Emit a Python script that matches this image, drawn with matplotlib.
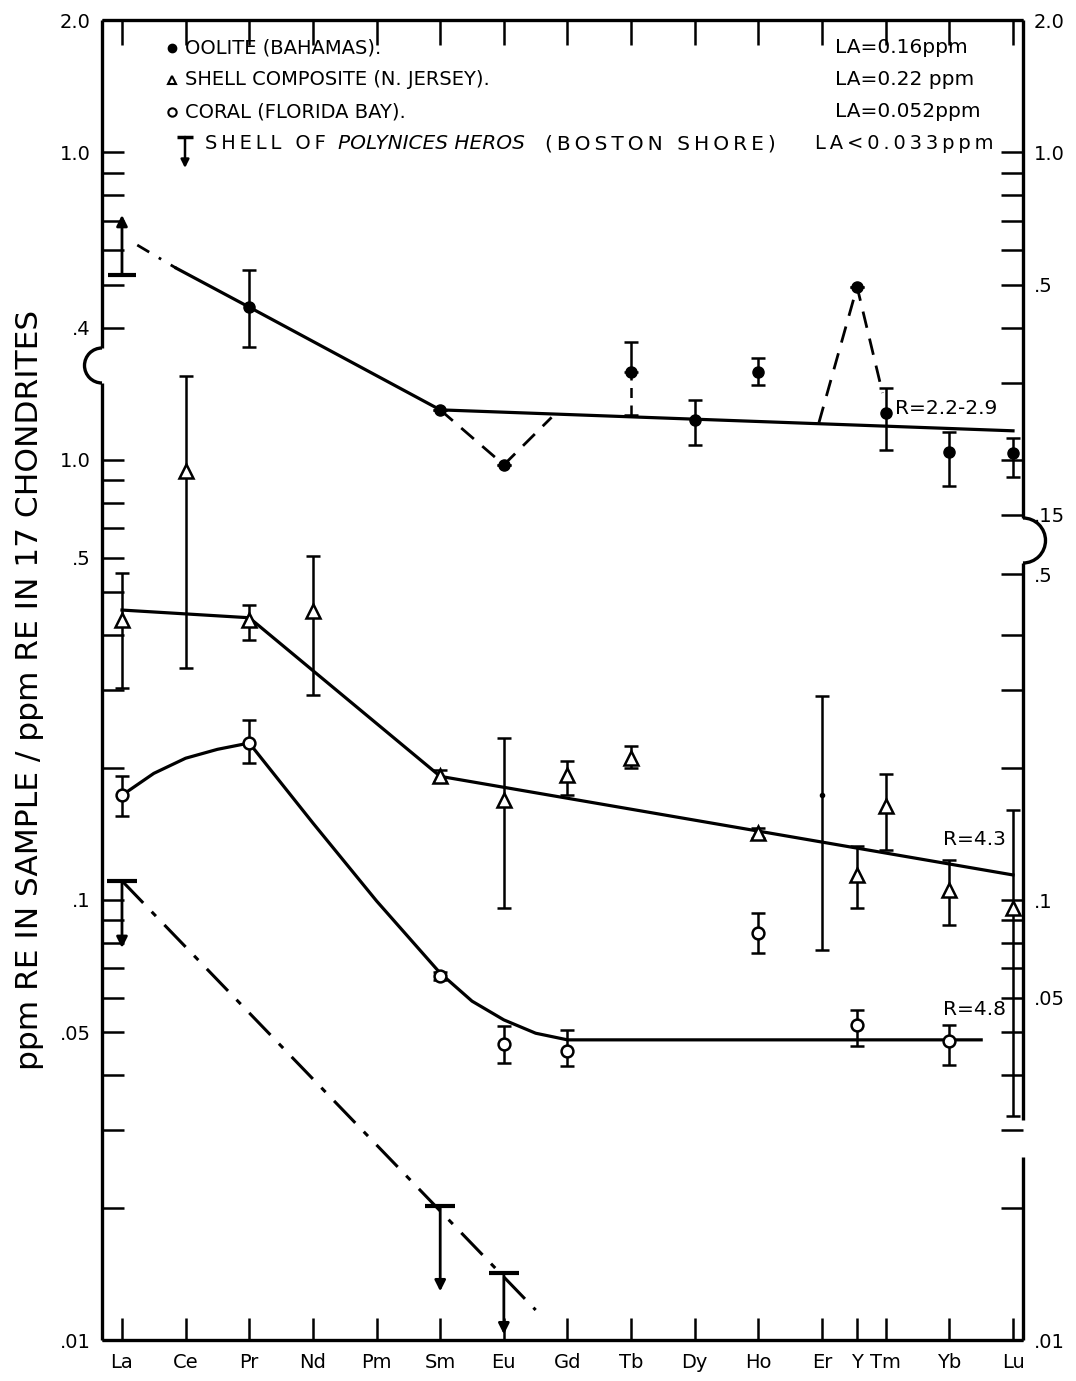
import matplotlib
matplotlib.use('Agg')
import matplotlib.pyplot as plt
from matplotlib.patches import Arc
from matplotlib.ticker import FixedLocator, FixedFormatter, NullLocator

plt.rcParams['font.family'] = 'DejaVu Sans'

# element axis: Y is slotted in between Er and Tm
elements = ['La', 'Ce', 'Pr', 'Nd', 'Pm', 'Sm', 'Eu', 'Gd', 'Tb', 'Dy', 'Ho', 'Er', 'Y', 'Tm', 'Yb', 'Lu']
elem_x = [0, 1, 2, 3, 4, 5, 6, 7, 8, 9, 10, 11, 11.55, 12, 13, 14]
top_tick_x = [0, 1, 2, 3, 4, 5, 6, 7, 8, 9, 10, 11, 12, 13, 14]

# oolite (Bahamas) -> upper scale (2.0 ... 0.15)
oolite_x = [2, 5, 6, 8, 9, 10, 11.55, 12, 13, 14]
oolite_y = [0.445, 0.260, 0.195, 0.317, 0.247, 0.317, 0.495, 0.256, 0.209, 0.208]
oolite_lo = [0.361, 0.260, 0.195, 0.317, 0.216, 0.296, 0.495, 0.211, 0.175, 0.183]
oolite_hi = [0.541, 0.260, 0.195, 0.371, 0.274, 0.341, 0.495, 0.291, 0.232, 0.224]
oolite_tb_lo = 0.253          # dashed lower bar at Tb
oolite_la, oolite_la_tip = 0.527, 0.721   # La lower limit
oolite_trend_x = [0.85, 2, 5, 14]
oolite_trend_y = [0.546, 0.445, 0.260, 0.233]
oolite_start_x = [0.24, 0.85]
oolite_start_y = [0.616, 0.546]
oolite_eu_x = [5, 6, 6.75]
oolite_eu_y = [0.260, 0.195, 0.250]
oolite_y_x = [10.95, 11.55, 11.95]
oolite_y_y = [0.243, 0.495, 0.284]

# shell composite (N. Jersey) -> lower scale
shell_x = [0, 1, 2, 3, 5, 6, 7, 8, 10, 11.55, 12, 13, 14]
shell_y = [0.433, 0.944, 0.433, 0.454, 0.191, 0.169, 0.192, 0.210, 0.142, 0.114, 0.1635, 0.1054, 0.0959]
shell_lo = [0.303, 0.336, 0.390, 0.292, 0.185, 0.0959, 0.173, 0.1995, 0.138, 0.0959, 0.130, 0.0877, 0.0323]
shell_hi = [0.553, 1.552, 0.468, 0.605, 0.197, 0.233, 0.207, 0.224, 0.146, 0.133, 0.193, 0.123, 0.160]
shell_er, shell_er_lo, shell_er_hi = 0.173, 0.0769, 0.291
shell_line_x = [0, 2, 5, 14]
shell_line_y = [0.456, 0.438, 0.191, 0.114]

# coral (Florida Bay) -> lower scale
coral_x = [0, 2, 5, 6, 7, 10, 11.55, 13]
coral_y = [0.173, 0.2274, 0.0672, 0.0471, 0.0454, 0.0841, 0.0520, 0.0478]
coral_lo = [0.155, 0.2046, 0.0659, 0.0426, 0.0420, 0.0758, 0.0466, 0.0422]
coral_hi = [0.191, 0.2565, 0.0686, 0.0517, 0.0506, 0.0934, 0.0562, 0.0520]
coral_line_x = [0, 0.5, 1, 1.5, 2, 3, 4, 5, 5.5, 6, 6.5, 7, 13.5]
coral_line_y = [0.173, 0.194, 0.210, 0.220, 0.2274, 0.1496, 0.0995, 0.0682, 0.0589, 0.0534, 0.0498, 0.0481, 0.0481]

# shell of Polynices heros (Boston) -> upper limits, lower scale
boston_x = [0, 5, 6]
boston_y = [0.1105, 0.0202, 0.0142]
boston_tip = [0.0778, 0.0129, 0.0103]
boston_line_x = [0, 6.5]
boston_line_y = [0.1105, 0.0117]

# axis ticks
low_left_ticks = [1.0, 0.9, 0.8, 0.7, 0.6, 0.5, 0.4, 0.3, 0.2, 0.1, 0.09, 0.08, 0.07, 0.06, 0.05, 0.04, 0.03, 0.02, 0.01]
low_left_labels = ['1.0', '', '', '', '.5', '', '', '', '', '.1', '', '', '', '', '.05', '', '', '', '.01']
low_right_ticks = [0.55, 0.4, 0.3, 0.2, 0.1, 0.09, 0.08, 0.07, 0.06, 0.05, 0.04, 0.03, 0.02, 0.01]
low_right_labels = ['.5', '', '', '', '.1', '', '', '', '.05', '', '', '', '', '.01']
top_left_ticks = [2.0, 1.0, 0.9, 0.8, 0.7, 0.6, 0.5, 0.4]
top_left_labels = ['2.0', '1.0', '', '', '', '', '', '.4']
top_right_ticks = [2.0, 1.0, 0.9, 0.8, 0.7, 0.6, 0.5, 0.4, 0.3, 0.2, 0.15]
top_right_labels = ['2.0', '1.0', '', '', '', '', '.5', '', '', '', '.15']

# frame in pixels
W, H = 1076, 1381
L, R, T, B = 102, 1023, 20, 1340


def fx(px):
    return (px - L) / (R - L)


def fy(py):
    return (B - py) / (B - T)


def spaced(s):
    # lettering on the original is wide-set
    return '\u2009'.join(s)


fig = plt.figure(figsize=(W / 100, H / 100), dpi=100)
rect = [L / W, 1 - B / H, (R - L) / W, (B - T) / H]
ax = fig.add_axes(rect)
at = fig.add_axes(rect, facecolor='none')
axr = ax.twinx()
atr = at.twinx()

xlim = (-0.314, 14.157)
for a in (ax, axr):
    a.set_yscale('log')
    a.set_ylim(0.01, 10.0)
for a in (at, atr):
    a.set_yscale('log')
    a.set_ylim(0.002, 2.0)
for a in (ax, at, axr, atr):
    a.set_xlim(*xlim)
    for s in a.spines.values():
        s.set_visible(False)
    a.yaxis.set_minor_locator(NullLocator())
    a.tick_params(axis='y', direction='in', length=16, width=1.8, labelsize=14, pad=8, color='k')

for a, ticks, labels in ((ax, low_left_ticks, low_left_labels), (axr, low_right_ticks, low_right_labels),
                         (at, top_left_ticks, top_left_labels), (atr, top_right_ticks, top_right_labels)):
    a.yaxis.set_major_locator(FixedLocator(ticks))
    a.yaxis.set_major_formatter(FixedFormatter(labels))

ax.set_xticks(elem_x)
ax.set_xticklabels(elements)
ax.tick_params(axis='x', direction='in', length=16, width=1.8, labelsize=14, pad=9, top=False)
at.set_xticks(top_tick_x)
at.xaxis.set_ticks_position('top')
at.tick_params(axis='x', direction='in', length=18, width=1.8, labeltop=False, labelbottom=False)
for a in (axr, atr):
    a.tick_params(axis='x', bottom=False, top=False, labelbottom=False)

lw = 2.3
ebk = dict(fmt='none', ecolor='k', elinewidth=1.8, capsize=5, capthick=1.8)

# --- oolite
at.plot(oolite_start_x, oolite_start_y, color='k', lw=2, ls=(0, (5, 4, 1, 4)))
at.plot(oolite_trend_x, oolite_trend_y, color='k', lw=lw)
at.plot(oolite_eu_x, oolite_eu_y, color='k', lw=2, ls=(0, (6, 4)))
at.plot(oolite_y_x, oolite_y_y, color='k', lw=2, ls=(0, (6, 4)))
err_lo = [y - lo for y, lo in zip(oolite_y, oolite_lo)]
err_hi = [hi - y for y, hi in zip(oolite_y, oolite_hi)]
at.errorbar(oolite_x, oolite_y, yerr=[err_lo, err_hi], **ebk)
at.vlines(8, oolite_tb_lo, oolite_y[3], colors='k', lw=1.8, linestyles=(0, (4, 3)))
at.plot(8, oolite_tb_lo, marker='_', ms=10, mew=1.8, color='k')
at.plot(oolite_x, oolite_y, 'o', color='k', ms=8)
at.plot(0, oolite_la, marker='_', ms=20, mew=3, color='k')
at.annotate('', xy=(0, oolite_la_tip), xytext=(0, oolite_la),
            arrowprops=dict(arrowstyle='-|>', lw=2, color='k', mutation_scale=16, shrinkA=0, shrinkB=0))
at.text(12.15, 0.262, 'R=2.2-2.9', fontsize=14.5, va='center', ha='left')

# --- shell composite
ax.plot(shell_line_x, shell_line_y, color='k', lw=lw)
err_lo = [y - lo for y, lo in zip(shell_y, shell_lo)]
err_hi = [hi - y for y, hi in zip(shell_y, shell_hi)]
ax.errorbar(shell_x, shell_y, yerr=[err_lo, err_hi], **ebk)
ax.errorbar([11], [shell_er], yerr=[[shell_er - shell_er_lo], [shell_er_hi - shell_er]], **ebk)
ax.plot(shell_x, shell_y, '^', mfc='white', mec='k', mew=1.8, ms=10)
ax.plot(11, shell_er, '.', color='k', ms=6)
ax.text(12.9, 0.137, 'R=4.3', fontsize=14.5, va='center', ha='left')

# --- coral
ax.plot(coral_line_x, coral_line_y, color='k', lw=lw)
err_lo = [y - lo for y, lo in zip(coral_y, coral_lo)]
err_hi = [hi - y for y, hi in zip(coral_y, coral_hi)]
ax.errorbar(coral_x, coral_y, yerr=[err_lo, err_hi], **ebk)
ax.plot(coral_x, coral_y, 'o', mfc='white', mec='k', mew=1.8, ms=8.5)
ax.text(12.9, 0.0565, 'R=4.8', fontsize=14.5, va='center', ha='left')

# --- Polynices heros upper limits
ax.plot(boston_line_x, boston_line_y, color='k', lw=2.2, ls=(0, (10, 4, 2, 4)))
ax.plot(boston_x, boston_y, marker='_', ms=22, mew=3, ls='none', color='k')
for x, y, tip in zip(boston_x, boston_y, boston_tip):
    ax.annotate('', xy=(x, tip), xytext=(x, y),
                arrowprops=dict(arrowstyle='-|>', lw=2, color='k', mutation_scale=16, shrinkA=0, shrinkB=0))

# --- hand-drawn frame with break marks
kw = dict(transform=ax.transAxes, clip_on=False, color='k', lw=2.4, solid_capstyle='butt')
ax.plot([0, 1], [1, 1], **kw)
ax.plot([0, 1], [0, 0], **kw)
ax.plot([0, 0], [1, fy(348)], **kw)
ax.plot([0, 0], [fy(383), 0], **kw)
ax.add_patch(Arc((0, fy(365.5)), 35 / (R - L), 35 / (B - T), theta1=90, theta2=270,
                 transform=ax.transAxes, clip_on=False, color='k', lw=2.4))
ax.plot([1, 1], [1, fy(518)], **kw)
ax.plot([1, 1], [fy(563), fy(1120)], **kw)
ax.plot([1, 1], [fy(1157), 0], **kw)
ax.add_patch(Arc((1, fy(540.5)), 45 / (R - L), 45 / (B - T), theta1=-90, theta2=90,
                 transform=ax.transAxes, clip_on=False, color='k', lw=2.4))

# --- legend block
fs = 14
rows = [48, 80, 112, 144]
ax.plot(fx(172), fy(rows[0]), 'o', color='k', ms=6, transform=ax.transAxes)
ax.plot(fx(172), fy(rows[1]), '^', mfc='white', mec='k', mew=1.5, ms=6, transform=ax.transAxes)
ax.plot(fx(172), fy(rows[2]), 'o', mfc='white', mec='k', mew=1.5, ms=6, transform=ax.transAxes)
ax.plot(fx(185), fy(137), marker='_', ms=12, mew=2.5, color='k', transform=ax.transAxes)
ax.annotate('', xy=(fx(185), fy(168)), xytext=(fx(185), fy(137)), xycoords='axes fraction',
            textcoords='axes fraction',
            arrowprops=dict(arrowstyle='-|>', lw=1.8, color='k', mutation_scale=12, shrinkA=0, shrinkB=0))
left_texts = ['OOLITE (BAHAMAS).', 'SHELL COMPOSITE (N. JERSEY).', 'CORAL (FLORIDA BAY).']
right_texts = ['LA=0.16ppm', 'LA=0.22 ppm', 'LA=0.052ppm']
for r, lt, rt in zip(rows, left_texts, right_texts):
    ax.text(fx(185), fy(r), lt, transform=ax.transAxes, fontsize=fs, va='center', ha='left')
    ax.text(fx(835), fy(r), rt, transform=ax.transAxes, fontsize=fs + 0.5, va='center', ha='left')
ax.text(fx(205), fy(rows[3]), spaced('SHELL OF'), transform=ax.transAxes, fontsize=fs,
        va='center', ha='left')
ax.text(fx(338), fy(rows[3]), 'POLYNICES HEROS', transform=ax.transAxes, fontsize=fs + 0.5, va='center',
        ha='left', style='italic')
ax.text(fx(545), fy(rows[3]), spaced('(BOSTON SHORE)'), transform=ax.transAxes, fontsize=fs + 0.5,
        va='center', ha='left')
ax.text(fx(815), fy(rows[3]), spaced('LA<0.033ppm'), transform=ax.transAxes, fontsize=fs,
        va='center', ha='left')

fig.text(30 / W, 1 - 690 / H, 'ppm RE IN SAMPLE / ppm RE IN 17 CHONDRITES', rotation=90,
         fontsize=22.5, ha='center', va='center')

fig.savefig('out.png', dpi=100)
